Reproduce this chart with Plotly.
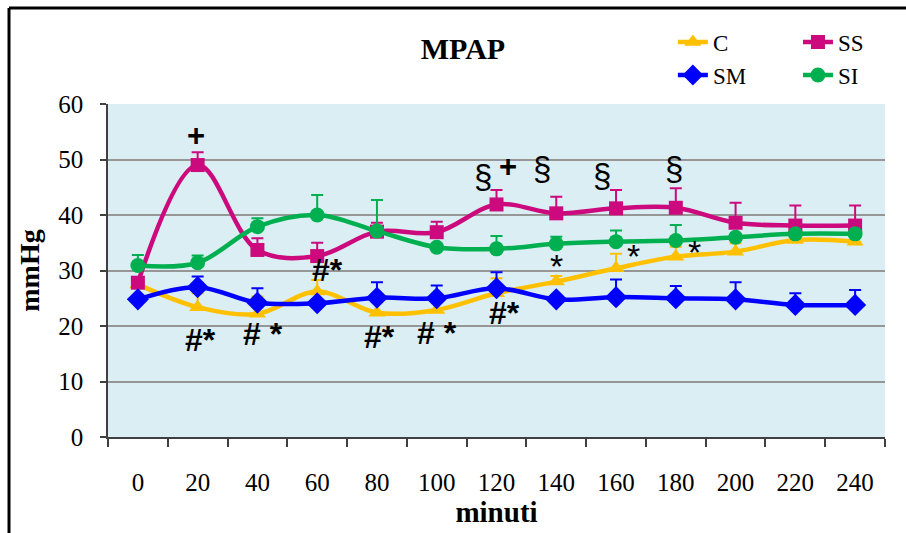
import plotly.graph_objects as go

# Time points (minutes) and group means / upper SD bars for MPAP (mmHg)
minutes = [0, 20, 40, 60, 80, 100, 120, 140, 160, 180, 200, 220, 240]

c_mean = [27.5, 23.4, 22.2, 26.2, 22.4, 22.9, 25.9, 28.0, 30.4, 32.5, 33.4, 35.5, 35.2]
c_err = [0, 2.5, 3.1, 2.1, 2.4, 2.0, 2.7, 1.0, 2.6, 1.8, 1.5, 1.2, 1.2]

ss_mean = [27.8, 49.0, 33.7, 32.6, 37.0, 36.9, 41.9, 40.3, 41.2, 41.3, 38.6, 38.1, 38.1]
ss_err = [0, 2.3, 2.1, 2.4, 1.6, 1.9, 2.6, 3.0, 3.3, 3.5, 3.6, 3.6, 3.6]

sm_mean = [24.8, 27.0, 24.2, 24.1, 25.1, 25.0, 26.8, 24.8, 25.2, 25.0, 24.8, 23.8, 23.8]
sm_err = [0, 1.9, 2.6, 0, 2.8, 2.3, 2.9, 0, 3.2, 2.2, 3.1, 2.1, 2.7]

si_mean = [30.9, 31.4, 37.9, 40.0, 37.1, 34.2, 33.9, 34.8, 35.2, 35.4, 36.0, 36.6, 36.6]
si_err = [1.9, 1.3, 1.5, 3.6, 5.6, 0, 2.3, 1.3, 2.0, 2.8, 0, 0, 0]

y_ticks = [0, 10, 20, 30, 40, 50, 60]

# Significance marks: (x, y, text, bold, size)
marks = [
    (19.3, 54.3, "+", True, 31),
    (20.8, 17.5, "#*", True, 32),
    (41.9, 18.6, "# *", True, 32),
    (63.6, 30.1, "#*", True, 32),
    (81.0, 18.0, "#*", True, 32),
    (100.1, 18.7, "# *", True, 32),
    (122.8, 22.3, "#*", True, 32),
    (115.6, 46.9, "§", False, 33),
    (124.0, 48.7, "+", True, 31),
    (135.1, 48.4, "§", False, 33),
    (140.1, 30.9, "*", False, 34),
    (155.2, 47.2, "§", False, 33),
    (165.8, 32.7, "*", False, 34),
    (179.4, 48.4, "§", False, 33),
    (186.4, 33.3, "*", False, 34),
]

SERIF = "Liberation Serif"
SANS = "Liberation Sans"

# name, means, errors, colour, marker, marker size, legend id, legend position
series = [
    ("C", c_mean, c_err, "#FFC000", "triangle-up", 15, "legend", (0.727, 1.186)),
    ("SS", ss_mean, ss_err, "#CC0A7E", "square", 14, "legend2", (0.888, 1.186)),
    ("SM", sm_mean, sm_err, "#0000FF", "diamond", 17, "legend3", (0.727, 1.087)),
    ("SI", si_mean, si_err, "#00B050", "circle", 15, "legend4", (0.888, 1.087)),
]

fig = go.Figure()
legends = {}
for name, ys, err, color, symbol, msize, leg, (lx, ly) in series:
    fig.add_trace(go.Scatter(
        x=minutes, y=ys, name=name, mode="lines+markers",
        line=dict(color=color, width=4.5, shape="spline", smoothing=1.0),
        marker=dict(color=color, symbol=symbol, size=msize),
        error_y=dict(type="data", symmetric=False, array=err,
                     arrayminus=[0] * len(err), color=color,
                     thickness=2, width=6),
        legend=leg,
    ))
    legends[leg] = dict(
        x=lx, y=ly, xanchor="left", yanchor="middle",
        bgcolor="rgba(0,0,0,0)",
        font=dict(family=SERIF, size=23, color="black"),
        itemclick=False, itemdoubleclick=False,
    )

for x, y, txt, bold, size in marks:
    fig.add_annotation(
        x=x, y=y, text=f"<b>{txt}</b>" if bold else txt, showarrow=False,
        font=dict(family=SANS, size=size, color="black"),
        xanchor="center", yanchor="middle",
    )

# Outer frame (top and left edges)
fig.add_shape(type="line", xref="paper", yref="paper",
              x0=-0.1274, x1=1.05, y0=1.2883, y1=1.2883,
              line=dict(color="black", width=3))
fig.add_shape(type="line", xref="paper", yref="paper",
              x0=-0.1274, x1=-0.1274, y0=1.2883, y1=-0.32,
              line=dict(color="black", width=3))

fig.update_layout(
    width=906, height=533,
    margin=dict(l=108, r=21, t=104, b=96),
    paper_bgcolor="white",
    plot_bgcolor="#DAEEF3",
    title=dict(text="<b>MPAP</b>", x=0.511, xref="container", xanchor="center",
               y=1 - 48 / 533, yref="container", yanchor="middle",
               font=dict(family=SERIF, size=30, color="black")),
    xaxis=dict(
        range=[-10, 250], tickvals=minutes, ticktext=[str(m) for m in minutes],
        ticks="", showgrid=False, zeroline=False,
        showline=True, linecolor="#404040", linewidth=1.5,
        ticklabelstandoff=22,
        tickfont=dict(family=SERIF, size=25, color="black"),
        minor=dict(tick0=-10, dtick=20, ticks="outside", ticklen=8,
                   tickcolor="#404040", tickwidth=1.5, showgrid=False),
        title=dict(text="<b>minuti</b>", standoff=5,
                   font=dict(family=SERIF, size=29, color="black")),
    ),
    yaxis=dict(
        range=[0, 60], tickvals=y_ticks, ticks="outside", ticklen=6,
        tickcolor="#404040", tickwidth=1.5,
        showgrid=True, gridcolor="#969696", gridwidth=1.5, zeroline=False,
        showline=True, linecolor="#404040", linewidth=1.5,
        ticklabelstandoff=12,
        tickfont=dict(family=SERIF, size=25, color="black"),
        title=dict(text="<b>mmHg</b>", standoff=10,
                   font=dict(family=SERIF, size=28, color="black")),
    ),
    showlegend=True,
    **legends,
)

fig.write_html("out.html")
